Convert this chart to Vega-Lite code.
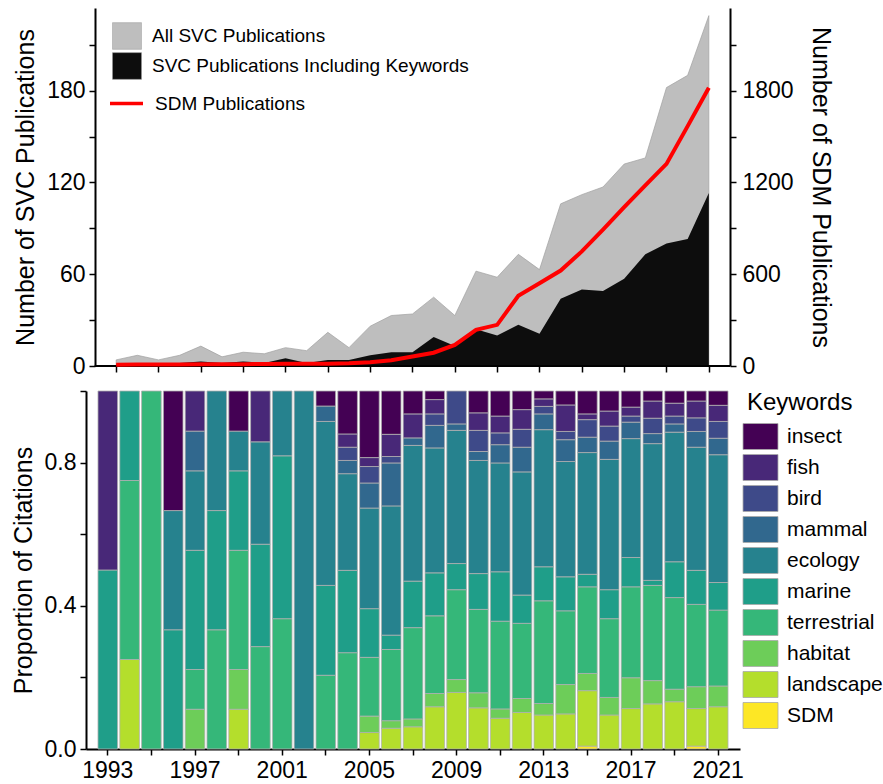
{
  "$schema": "https://vega.github.io/schema/vega-lite/v6.json",
  "background": "white",
  "padding": {"left": 11, "top": 8, "right": 0, "bottom": 0},
  "config": {
    "font": "Liberation Sans",
    "view": {"stroke": null},
    "axis": {
      "labelFont": "Liberation Sans", "titleFont": "Liberation Sans",
      "labelFontSize": 23, "titleFontSize": 25, "titleFontWeight": "normal",
      "labelColor": "#000", "titleColor": "#000", "domainColor": "#000", "tickColor": "#000",
      "domainWidth": 2, "tickWidth": 1.5, "tickSize": 6, "grid": false, "labelPadding": 4
    },
    "legend": {"labelFont": "Liberation Sans", "titleFont": "Liberation Sans", "labelColor": "#000", "titleColor": "#000", "titleFontWeight": "normal", "labelLimit": 0}
  },
  "datasets": {
    "pubs": [
      {"year": 1993, "all": 4, "kw": 1, "sdm": 8},
      {"year": 1994, "all": 7, "kw": 1, "sdm": 9},
      {"year": 1995, "all": 4, "kw": 1, "sdm": 10},
      {"year": 1996, "all": 7, "kw": 2, "sdm": 10},
      {"year": 1997, "all": 13, "kw": 3, "sdm": 11},
      {"year": 1998, "all": 6, "kw": 2, "sdm": 12},
      {"year": 1999, "all": 9, "kw": 3, "sdm": 12},
      {"year": 2000, "all": 8, "kw": 2, "sdm": 13},
      {"year": 2001, "all": 12, "kw": 5, "sdm": 14},
      {"year": 2002, "all": 10, "kw": 2, "sdm": 14},
      {"year": 2003, "all": 22, "kw": 4, "sdm": 15},
      {"year": 2004, "all": 12, "kw": 4, "sdm": 18},
      {"year": 2005, "all": 26, "kw": 7, "sdm": 25},
      {"year": 2006, "all": 33, "kw": 9, "sdm": 38},
      {"year": 2007, "all": 34, "kw": 9, "sdm": 62},
      {"year": 2008, "all": 45, "kw": 19, "sdm": 87},
      {"year": 2009, "all": 33, "kw": 13, "sdm": 138},
      {"year": 2010, "all": 62, "kw": 24, "sdm": 236},
      {"year": 2011, "all": 58, "kw": 20, "sdm": 269},
      {"year": 2012, "all": 73, "kw": 27, "sdm": 459},
      {"year": 2013, "all": 63, "kw": 21, "sdm": 541},
      {"year": 2014, "all": 106, "kw": 44, "sdm": 624},
      {"year": 2015, "all": 112, "kw": 50, "sdm": 749},
      {"year": 2016, "all": 117, "kw": 49, "sdm": 891},
      {"year": 2017, "all": 132, "kw": 57, "sdm": 1039},
      {"year": 2018, "all": 136, "kw": 73, "sdm": 1181},
      {"year": 2019, "all": 182, "kw": 80, "sdm": 1321},
      {"year": 2020, "all": 190, "kw": 83, "sdm": 1568},
      {"year": 2021, "all": 229, "kw": 113, "sdm": 1819}
    ],
    "keys": [
      {"keyword": "SDM", "k": 0}, {"keyword": "landscape", "k": 1}, {"keyword": "habitat", "k": 2},
      {"keyword": "terrestrial", "k": 3}, {"keyword": "marine", "k": 4}, {"keyword": "ecology", "k": 5},
      {"keyword": "mammal", "k": 6}, {"keyword": "bird", "k": 7}, {"keyword": "fish", "k": 8}, {"keyword": "insect", "k": 9}
    ],
    "props": [
      {"year": 1993, "keyword": "marine", "p": 0.5}, {"year": 1993, "keyword": "fish", "p": 0.5},
      {"year": 1994, "keyword": "landscape", "p": 0.25}, {"year": 1994, "keyword": "terrestrial", "p": 0.5}, {"year": 1994, "keyword": "marine", "p": 0.25},
      {"year": 1995, "keyword": "terrestrial", "p": 1},
      {"year": 1996, "keyword": "marine", "p": 0.333}, {"year": 1996, "keyword": "ecology", "p": 0.333}, {"year": 1996, "keyword": "insect", "p": 0.334},
      {"year": 1997, "keyword": "habitat", "p": 0.111}, {"year": 1997, "keyword": "terrestrial", "p": 0.111}, {"year": 1997, "keyword": "marine", "p": 0.333}, {"year": 1997, "keyword": "ecology", "p": 0.222}, {"year": 1997, "keyword": "mammal", "p": 0.111}, {"year": 1997, "keyword": "fish", "p": 0.112},
      {"year": 1998, "keyword": "terrestrial", "p": 0.333}, {"year": 1998, "keyword": "marine", "p": 0.333}, {"year": 1998, "keyword": "ecology", "p": 0.334},
      {"year": 1999, "keyword": "landscape", "p": 0.111}, {"year": 1999, "keyword": "habitat", "p": 0.111}, {"year": 1999, "keyword": "terrestrial", "p": 0.333}, {"year": 1999, "keyword": "marine", "p": 0.222}, {"year": 1999, "keyword": "ecology", "p": 0.111}, {"year": 1999, "keyword": "insect", "p": 0.112},
      {"year": 2000, "keyword": "terrestrial", "p": 0.286}, {"year": 2000, "keyword": "marine", "p": 0.286}, {"year": 2000, "keyword": "ecology", "p": 0.286}, {"year": 2000, "keyword": "fish", "p": 0.142},
      {"year": 2001, "keyword": "terrestrial", "p": 0.364}, {"year": 2001, "keyword": "marine", "p": 0.455}, {"year": 2001, "keyword": "ecology", "p": 0.181},
      {"year": 2002, "keyword": "ecology", "p": 1},
      {"year": 2003, "keyword": "terrestrial", "p": 0.206}, {"year": 2003, "keyword": "marine", "p": 0.251}, {"year": 2003, "keyword": "ecology", "p": 0.458}, {"year": 2003, "keyword": "mammal", "p": 0.043}, {"year": 2003, "keyword": "insect", "p": 0.042},
      {"year": 2004, "keyword": "terrestrial", "p": 0.269}, {"year": 2004, "keyword": "marine", "p": 0.23}, {"year": 2004, "keyword": "ecology", "p": 0.27}, {"year": 2004, "keyword": "mammal", "p": 0.037}, {"year": 2004, "keyword": "bird", "p": 0.037}, {"year": 2004, "keyword": "fish", "p": 0.037}, {"year": 2004, "keyword": "insect", "p": 0.12},
      {"year": 2005, "keyword": "landscape", "p": 0.046}, {"year": 2005, "keyword": "habitat", "p": 0.046}, {"year": 2005, "keyword": "terrestrial", "p": 0.164}, {"year": 2005, "keyword": "marine", "p": 0.136}, {"year": 2005, "keyword": "ecology", "p": 0.281}, {"year": 2005, "keyword": "mammal", "p": 0.07}, {"year": 2005, "keyword": "bird", "p": 0.046}, {"year": 2005, "keyword": "fish", "p": 0.025}, {"year": 2005, "keyword": "insect", "p": 0.186},
      {"year": 2006, "keyword": "landscape", "p": 0.058}, {"year": 2006, "keyword": "habitat", "p": 0.021}, {"year": 2006, "keyword": "terrestrial", "p": 0.199}, {"year": 2006, "keyword": "marine", "p": 0.04}, {"year": 2006, "keyword": "ecology", "p": 0.361}, {"year": 2006, "keyword": "mammal", "p": 0.12}, {"year": 2006, "keyword": "bird", "p": 0.018}, {"year": 2006, "keyword": "fish", "p": 0.062}, {"year": 2006, "keyword": "insect", "p": 0.121},
      {"year": 2007, "keyword": "landscape", "p": 0.062}, {"year": 2007, "keyword": "habitat", "p": 0.022}, {"year": 2007, "keyword": "terrestrial", "p": 0.255}, {"year": 2007, "keyword": "marine", "p": 0.13}, {"year": 2007, "keyword": "ecology", "p": 0.379}, {"year": 2007, "keyword": "mammal", "p": 0.021}, {"year": 2007, "keyword": "fish", "p": 0.067}, {"year": 2007, "keyword": "insect", "p": 0.064},
      {"year": 2008, "keyword": "landscape", "p": 0.118}, {"year": 2008, "keyword": "habitat", "p": 0.037}, {"year": 2008, "keyword": "terrestrial", "p": 0.217}, {"year": 2008, "keyword": "marine", "p": 0.12}, {"year": 2008, "keyword": "ecology", "p": 0.349}, {"year": 2008, "keyword": "mammal", "p": 0.063}, {"year": 2008, "keyword": "bird", "p": 0.032}, {"year": 2008, "keyword": "fish", "p": 0.04}, {"year": 2008, "keyword": "insect", "p": 0.024},
      {"year": 2009, "keyword": "landscape", "p": 0.158}, {"year": 2009, "keyword": "habitat", "p": 0.036}, {"year": 2009, "keyword": "terrestrial", "p": 0.251}, {"year": 2009, "keyword": "marine", "p": 0.073}, {"year": 2009, "keyword": "ecology", "p": 0.372}, {"year": 2009, "keyword": "mammal", "p": 0.018}, {"year": 2009, "keyword": "bird", "p": 0.092},
      {"year": 2010, "keyword": "landscape", "p": 0.115}, {"year": 2010, "keyword": "habitat", "p": 0.042}, {"year": 2010, "keyword": "terrestrial", "p": 0.233}, {"year": 2010, "keyword": "marine", "p": 0.1}, {"year": 2010, "keyword": "ecology", "p": 0.316}, {"year": 2010, "keyword": "mammal", "p": 0.025}, {"year": 2010, "keyword": "bird", "p": 0.059}, {"year": 2010, "keyword": "fish", "p": 0.049}, {"year": 2010, "keyword": "insect", "p": 0.061},
      {"year": 2011, "keyword": "landscape", "p": 0.086}, {"year": 2011, "keyword": "habitat", "p": 0.026}, {"year": 2011, "keyword": "terrestrial", "p": 0.245}, {"year": 2011, "keyword": "marine", "p": 0.138}, {"year": 2011, "keyword": "ecology", "p": 0.304}, {"year": 2011, "keyword": "mammal", "p": 0.051}, {"year": 2011, "keyword": "bird", "p": 0.033}, {"year": 2011, "keyword": "fish", "p": 0.047}, {"year": 2011, "keyword": "insect", "p": 0.07},
      {"year": 2012, "keyword": "landscape", "p": 0.102}, {"year": 2012, "keyword": "habitat", "p": 0.039}, {"year": 2012, "keyword": "terrestrial", "p": 0.21}, {"year": 2012, "keyword": "marine", "p": 0.079}, {"year": 2012, "keyword": "ecology", "p": 0.344}, {"year": 2012, "keyword": "mammal", "p": 0.069}, {"year": 2012, "keyword": "bird", "p": 0.05}, {"year": 2012, "keyword": "fish", "p": 0.055}, {"year": 2012, "keyword": "insect", "p": 0.052},
      {"year": 2013, "keyword": "landscape", "p": 0.095}, {"year": 2013, "keyword": "habitat", "p": 0.032}, {"year": 2013, "keyword": "terrestrial", "p": 0.287}, {"year": 2013, "keyword": "marine", "p": 0.095}, {"year": 2013, "keyword": "ecology", "p": 0.383}, {"year": 2013, "keyword": "mammal", "p": 0.044}, {"year": 2013, "keyword": "bird", "p": 0.021}, {"year": 2013, "keyword": "fish", "p": 0.021}, {"year": 2013, "keyword": "insect", "p": 0.022},
      {"year": 2014, "keyword": "landscape", "p": 0.098}, {"year": 2014, "keyword": "habitat", "p": 0.082}, {"year": 2014, "keyword": "terrestrial", "p": 0.206}, {"year": 2014, "keyword": "marine", "p": 0.095}, {"year": 2014, "keyword": "ecology", "p": 0.322}, {"year": 2014, "keyword": "mammal", "p": 0.061}, {"year": 2014, "keyword": "bird", "p": 0.023}, {"year": 2014, "keyword": "fish", "p": 0.074}, {"year": 2014, "keyword": "insect", "p": 0.039},
      {"year": 2015, "keyword": "SDM", "p": 0.008}, {"year": 2015, "keyword": "landscape", "p": 0.155}, {"year": 2015, "keyword": "habitat", "p": 0.048}, {"year": 2015, "keyword": "terrestrial", "p": 0.242}, {"year": 2015, "keyword": "marine", "p": 0.035}, {"year": 2015, "keyword": "ecology", "p": 0.34}, {"year": 2015, "keyword": "mammal", "p": 0.043}, {"year": 2015, "keyword": "bird", "p": 0.049}, {"year": 2015, "keyword": "fish", "p": 0.016}, {"year": 2015, "keyword": "insect", "p": 0.064},
      {"year": 2016, "keyword": "landscape", "p": 0.095}, {"year": 2016, "keyword": "habitat", "p": 0.049}, {"year": 2016, "keyword": "terrestrial", "p": 0.22}, {"year": 2016, "keyword": "marine", "p": 0.081}, {"year": 2016, "keyword": "ecology", "p": 0.364}, {"year": 2016, "keyword": "mammal", "p": 0.051}, {"year": 2016, "keyword": "bird", "p": 0.042}, {"year": 2016, "keyword": "fish", "p": 0.042}, {"year": 2016, "keyword": "insect", "p": 0.056},
      {"year": 2017, "keyword": "landscape", "p": 0.113}, {"year": 2017, "keyword": "habitat", "p": 0.086}, {"year": 2017, "keyword": "terrestrial", "p": 0.254}, {"year": 2017, "keyword": "marine", "p": 0.082}, {"year": 2017, "keyword": "ecology", "p": 0.332}, {"year": 2017, "keyword": "mammal", "p": 0.046}, {"year": 2017, "keyword": "bird", "p": 0.017}, {"year": 2017, "keyword": "fish", "p": 0.025}, {"year": 2017, "keyword": "insect", "p": 0.045},
      {"year": 2018, "keyword": "landscape", "p": 0.126}, {"year": 2018, "keyword": "habitat", "p": 0.065}, {"year": 2018, "keyword": "terrestrial", "p": 0.266}, {"year": 2018, "keyword": "marine", "p": 0.014}, {"year": 2018, "keyword": "ecology", "p": 0.382}, {"year": 2018, "keyword": "mammal", "p": 0.028}, {"year": 2018, "keyword": "bird", "p": 0.043}, {"year": 2018, "keyword": "fish", "p": 0.048}, {"year": 2018, "keyword": "insect", "p": 0.028},
      {"year": 2019, "keyword": "landscape", "p": 0.132}, {"year": 2019, "keyword": "habitat", "p": 0.035}, {"year": 2019, "keyword": "terrestrial", "p": 0.256}, {"year": 2019, "keyword": "marine", "p": 0.1}, {"year": 2019, "keyword": "ecology", "p": 0.362}, {"year": 2019, "keyword": "mammal", "p": 0.023}, {"year": 2019, "keyword": "bird", "p": 0.022}, {"year": 2019, "keyword": "fish", "p": 0.036}, {"year": 2019, "keyword": "insect", "p": 0.034},
      {"year": 2020, "keyword": "SDM", "p": 0.008}, {"year": 2020, "keyword": "landscape", "p": 0.105}, {"year": 2020, "keyword": "habitat", "p": 0.061}, {"year": 2020, "keyword": "terrestrial", "p": 0.23}, {"year": 2020, "keyword": "marine", "p": 0.095}, {"year": 2020, "keyword": "ecology", "p": 0.344}, {"year": 2020, "keyword": "mammal", "p": 0.044}, {"year": 2020, "keyword": "bird", "p": 0.038}, {"year": 2020, "keyword": "fish", "p": 0.047}, {"year": 2020, "keyword": "insect", "p": 0.028},
      {"year": 2021, "keyword": "landscape", "p": 0.118}, {"year": 2021, "keyword": "habitat", "p": 0.058}, {"year": 2021, "keyword": "terrestrial", "p": 0.212}, {"year": 2021, "keyword": "marine", "p": 0.077}, {"year": 2021, "keyword": "ecology", "p": 0.357}, {"year": 2021, "keyword": "mammal", "p": 0.046}, {"year": 2021, "keyword": "bird", "p": 0.047}, {"year": 2021, "keyword": "fish", "p": 0.045}, {"year": 2021, "keyword": "insect", "p": 0.04}
    ]
  },
  "concat": [
    {
      "width": 644,
      "height": 358,
      "data": {"name": "pubs"},
      "layer": [
        {
          "layer": [
            {
              "mark": {"type": "area", "stroke": "#a0a0a0", "strokeWidth": 0.7},
              "encoding": {
                "x": {"field": "year", "type": "quantitative", "scale": {"domain": [1991.575, 2022], "nice": false, "zero": false},
                      "axis": {"values": [1993, 1995, 1997, 1999, 2001, 2003, 2005, 2007, 2009, 2011, 2013, 2015, 2017, 2019, 2021], "labels": false, "title": null, "domain": false}},
                "y": {"field": "all", "type": "quantitative", "scale": {"domain": [0, 234], "nice": false},
                      "axis": {"values": [0, 30, 60, 90, 120, 150, 180, 210], "format": "d", "labelExpr": "datum.value % 60 === 0 ? datum.label : ''", "title": "Number of SVC Publications", "titlePadding": 8, "offset": -9}},
                "fill": {"datum": "All SVC Publications", "type": "nominal",
                         "scale": {"domain": ["All SVC Publications", "SVC Publications Including Keywords"], "range": ["#bebebe", "#0d0d0d"]},
                         "legend": {"orient": "none", "legendX": 27, "legendY": 14, "title": null, "symbolType": "M-1.086,-1H1.086V1H-1.086Z", "symbolSize": 713, "labelFontSize": 19, "rowPadding": 0, "padding": 0, "labelOffset": 11, "symbolStrokeColor": "#999999", "symbolStrokeWidth": 0.5}}
              }
            },
            {
              "mark": {"type": "area"},
              "encoding": {
                "x": {"field": "year", "type": "quantitative"},
                "y": {"field": "kw", "type": "quantitative"},
                "fill": {"datum": "SVC Publications Including Keywords", "type": "nominal"}
              }
            },
            {
              "mark": {"type": "rule", "color": "#000000", "strokeWidth": 2},
              "encoding": {
                "x": {"datum": 1992, "type": "quantitative"},
                "x2": {"datum": 2022},
                "y": {"datum": 0, "type": "quantitative"}
              }
            }
          ]
        },
        {
          "mark": {"type": "line", "strokeWidth": 4},
          "encoding": {
            "x": {"field": "year", "type": "quantitative"},
            "y": {"field": "sdm", "type": "quantitative", "scale": {"domain": [0, 2340], "nice": false},
                  "axis": {"orient": "right", "values": [0, 300, 600, 900, 1200, 1500, 1800, 2100], "format": "d", "labelExpr": "datum.value % 600 === 0 ? datum.label : ''", "title": "Number of SDM Publications", "titlePadding": 14, "labelPadding": 6}},
            "stroke": {"datum": "SDM Publications", "type": "nominal", "scale": {"range": ["#ff0000"]},
                       "legend": {"orient": "none", "legendX": 22, "legendY": 77, "title": null, "symbolType": "stroke", "symbolSize": 1089, "symbolStrokeWidth": 3.5, "labelFontSize": 19, "labelOffset": 10, "padding": 0}}
          }
        }
      ],
      "resolve": {"scale": {"y": "independent"}}
    },
    {
      "width": 654,
      "height": 358,
      "data": {"name": "props"},
      "transform": [{"lookup": "keyword", "from": {"data": {"name": "keys"}, "key": "keyword", "fields": ["k"]}}],
      "mark": {"type": "bar", "stroke": "#b0b0b0", "strokeWidth": 0.8},
      "encoding": {
        "x": {"field": "year", "type": "ordinal", "scale": {"paddingInner": 0.1, "paddingOuter": 0.55},
              "axis": {"values": [1993, 1995, 1997, 1999, 2001, 2003, 2005, 2007, 2009, 2011, 2013, 2015, 2017, 2019, 2021], "labelExpr": "(datum.value - 1993) % 4 === 0 ? datum.label : ''", "labelAngle": 0, "title": null, "labelPadding": 4}},
        "y": {"field": "p", "type": "quantitative", "stack": "normalize", "scale": {"domain": [0, 1]},
              "axis": {"values": [0, 0.2, 0.4, 0.6, 0.8, 1], "labelExpr": "(datum.value < 0.01 || abs(datum.value - 0.4) < 0.01 || abs(datum.value - 0.8) < 0.01) ? format(datum.value, '.1f') : ''", "title": "Proportion of Citations", "titlePadding": 8}},
        "color": {"field": "keyword", "type": "nominal",
                  "scale": {"domain": ["insect", "fish", "bird", "mammal", "ecology", "marine", "terrestrial", "habitat", "landscape", "SDM"],
                            "range": ["#440154", "#482878", "#3E4A89", "#31688E", "#26828E", "#1F9E89", "#35B779", "#6DCD59", "#B4DE2C", "#FDE725"]},
                  "legend": {"title": "Keywords", "orient": "right", "offset": 7, "padding": 0, "titleFontSize": 24, "titlePadding": 8, "labelFontSize": 21, "labelOffset": 13, "symbolType": "M-1.346,-1H1.346V1H-1.346Z", "symbolSize": 676, "rowPadding": 0, "symbolStrokeColor": "#aaaaaa", "symbolStrokeWidth": 0.8}},
        "order": {"field": "k", "type": "quantitative"}
      }
    }
  ],
  "columns": 1,
  "align": "none",
  "spacing": 12,
  "resolve": {"scale": {"color": "independent"}}
}
